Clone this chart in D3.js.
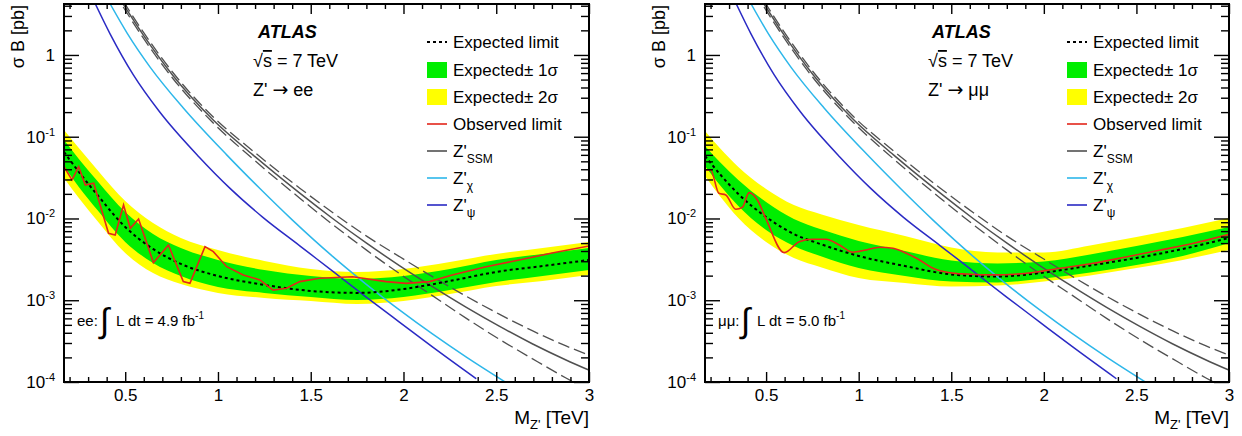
<!DOCTYPE html>
<html><head><meta charset="utf-8">
<script src="https://cdn.jsdelivr.net/npm/d3@7"></script>
<style>
body{margin:0;background:#fff}
text{font-family:"Liberation Sans",Arial,Helvetica,sans-serif;fill:#000}
</style></head>
<body><svg id="chart" width="1242" height="436"></svg>
<script>
// ---------- data ----------
const xDomain = [0.17, 3];
const yDomain = [1e-4, 4.2];
const xMajorTicks = [0.5, 1, 1.5, 2, 2.5, 3];
const xTickLabels = ["0.5", "1", "1.5", "2", "2.5", "3"];
const yMajorTicks = [1e-4, 1e-3, 1e-2, 1e-1, 1];
const yTickBase = ["10", "10", "10", "10", "1"];
const yTickExp = ["-4", "-3", "-2", "-1", ""];

const bandMass = [0.17,0.25,0.35,0.5,0.65,0.8,1.0,1.25,1.5,1.75,2.0,2.25,2.5,2.75,3.0];

// ee channel
const eeExpected = [0.0651,0.0371,0.01938,0.00787,0.00424,0.00278,0.00198,0.00154,0.00130,0.00123,0.00137,0.00172,0.00222,0.00262,0.00311];
const eeTwoSigmaUp = [0.1210,0.0728,0.0392,0.01637,0.00881,0.00577,0.00412,0.00302,0.00241,0.00222,0.00241,0.00294,0.00368,0.00436,0.00516];
const eeOneSigmaUp = [0.0912,0.0534,0.0288,0.01201,0.00646,0.00436,0.00311,0.00234,0.00198,0.00182,0.00198,0.00241,0.00311,0.00368,0.00436];
const eeOneSigmaDown = [0.0439,0.0243,0.0127,0.00516,0.00286,0.00198,0.00145,0.00123,0.001096,0.001007,0.001096,0.00133,0.00167,0.00198,0.00234];
const eeTwoSigmaDown = [0.0313,0.01781,0.00931,0.00378,0.00215,0.00158,0.00123,0.001066,0.000979,0.000900,0.000979,0.00119,0.00149,0.00172,0.00204];
const eeObsMass = [0.17,0.213,0.249,0.285,0.330,0.410,0.446,0.491,0.527,0.572,0.652,0.733,0.813,0.849,0.930,0.975,1.047,1.136,1.226,1.297,1.369,1.441,1.548,1.726,1.907,2.014,2.140,2.263,2.445,2.624,2.801,3.0];
const eeObserved = [0.0430,0.0296,0.0430,0.0257,0.0270,0.00659,0.00628,0.0146,0.00759,0.00986,0.00288,0.00474,0.00169,0.00161,0.00452,0.00393,0.00257,0.00204,0.00177,0.00133,0.00140,0.00169,0.00186,0.00194,0.00169,0.00161,0.00169,0.00204,0.00257,0.00311,0.00378,0.00460];

// mumu channel
const mmExpected = [0.0581,0.0350,0.01995,0.01043,0.00646,0.00481,0.00348,0.00262,0.00207,0.00195,0.00218,0.00266,0.00329,0.00424,0.00577];
const mmTwoSigmaUp = [0.1175,0.0728,0.0427,0.0230,0.01462,0.01119,0.00832,0.00611,0.00442,0.00384,0.00384,0.00468,0.00594,0.00766,0.01014];
const mmOneSigmaUp = [0.0771,0.0491,0.0296,0.0159,0.00986,0.00733,0.00531,0.00400,0.00306,0.00282,0.00298,0.00363,0.00461,0.00594,0.00787];
const mmOneSigmaDown = [0.0439,0.0257,0.01422,0.00723,0.00461,0.00343,0.00248,0.00198,0.00169,0.00165,0.00185,0.00218,0.00270,0.00348,0.00501];
const mmTwoSigmaDown = [0.0331,0.01884,0.01014,0.00516,0.00329,0.00252,0.00187,0.00163,0.00147,0.00151,0.00169,0.00201,0.00248,0.00311,0.00412];
const mmObsMass = [0.17,0.200,0.245,0.282,0.336,0.372,0.408,0.453,0.498,0.598,0.679,0.751,0.824,0.896,0.968,1.040,1.112,1.185,1.257,1.329,1.401,1.492,1.582,1.725,1.908,2.088,2.267,2.450,2.630,2.809,3.0];
const mmObserved = [0.0392,0.0392,0.0203,0.0194,0.01297,0.01371,0.0207,0.01683,0.01005,0.00382,0.00520,0.00557,0.00557,0.00474,0.00386,0.00412,0.00445,0.00432,0.00375,0.00311,0.00246,0.00217,0.00209,0.00204,0.00214,0.00246,0.00283,0.00341,0.00412,0.00498,0.00640];

// theory predictions
const ssmMass = [0.489,0.597,0.758,0.973,1.188,1.441,1.618,1.801,1.978,2.156,2.339,2.516,2.694,2.876,3.0];
const ssmXsec = [4.2,1.758,0.557,0.1614,0.0600,0.0204,0.0100,0.00499,0.002655,0.001466,0.000818,0.000482,0.000294,0.000186,0.0001396];
const ssmXsecUp = [4.57,1.913,0.606,0.1756,0.0671,0.02348,0.01184,0.00608,0.00342,0.001942,0.001115,0.000676,0.000424,0.000276,0.000213];
const ssmXsecDown = [3.86,1.616,0.512,0.1483,0.0536,0.01772,0.00845,0.0041,0.00212,0.001138,0.0006,0.000334,0.000193,0.000112,0.0000795];
const chiMass = [0.419,0.511,0.634,0.812,1.047,1.226,1.403,1.618,1.801,1.978,2.156,2.339,2.570];
const chiXsec = [4.2,1.837,0.711,0.226,0.0600,0.02323,0.00948,0.003436,0.001556,0.000762,0.000387,0.0002014,0.0000931];
const psiMass = [0.339,0.419,0.543,0.683,0.898,1.065,1.242,1.441,1.618,1.801,1.978,2.156,2.392];
const psiXsec = [4.2,1.799,0.574,0.2046,0.0565,0.02333,0.01033,0.004634,0.00227,0.001086,0.00054,0.0002685,0.0001096];

const legendLabels = ["Expected limit","Expected\u00b1 1\u03c3","Expected\u00b1 2\u03c3","Observed limit","Z'","Z'","Z'"];
const legendSubs = ["","","","","SSM","\u03c7","\u03c8"];

// ---------- styles ----------
const C = {yellow:"#ffff00", green:"#00ee00", red:"#e3261b", ssm:"#505050", chi:"#2db7ea", psi:"#2a2ac4"};
const TOP = 4, BOTTOM = 382;

const svg = d3.select("#chart");
const defs = svg.append("defs");

function drawPanel(cfg) {
  const x = d3.scaleLinear().domain(xDomain).range([cfg.left, cfg.right]);
  const y = d3.scaleLog().domain(yDomain).range([BOTTOM, TOP]);
  const g = svg.append("g");

  defs.append("clipPath").attr("id", cfg.id).append("rect")
    .attr("x", cfg.left).attr("y", TOP).attr("width", cfg.right - cfg.left).attr("height", BOTTOM - TOP);
  const plot = g.append("g").attr("clip-path", `url(#${cfg.id})`);

  const area = (lo, hi) => d3.area()
    .x((d, i) => x(bandMass[i])).y0((d, i) => y(lo[i])).y1((d, i) => y(hi[i]))
    .curve(d3.curveMonotoneX);

  plot.append("path").datum(bandMass).attr("d", area(cfg.d2, cfg.u2)).attr("fill", C.yellow);
  plot.append("path").datum(bandMass).attr("d", area(cfg.d1, cfg.u1)).attr("fill", C.green);

  // theory curves
  const smooth = d3.line().x(d => x(d[0])).y(d => y(d[1])).curve(d3.curveMonotoneX);
  plot.append("path").datum(d3.zip(ssmMass, ssmXsecUp)).attr("d", smooth).attr("fill", "none")
    .attr("stroke", C.ssm).attr("stroke-width", 1.3).attr("stroke-dasharray", "12,5");
  plot.append("path").datum(d3.zip(ssmMass, ssmXsecDown)).attr("d", smooth).attr("fill", "none")
    .attr("stroke", C.ssm).attr("stroke-width", 1.3).attr("stroke-dasharray", "12,5");
  plot.append("path").datum(d3.zip(ssmMass, ssmXsec)).attr("d", smooth).attr("fill", "none")
    .attr("stroke", C.ssm).attr("stroke-width", 1.5);
  plot.append("path").datum(d3.zip(chiMass, chiXsec)).attr("d", smooth).attr("fill", "none")
    .attr("stroke", C.chi).attr("stroke-width", 1.5);
  plot.append("path").datum(d3.zip(psiMass, psiXsec)).attr("d", smooth).attr("fill", "none")
    .attr("stroke", C.psi).attr("stroke-width", 1.5);

  plot.append("path").datum(d3.zip(bandMass, cfg.exp)).attr("d", smooth)
    .attr("fill", "none").attr("stroke", "#000").attr("stroke-width", 2).attr("stroke-dasharray", "3,3");
  plot.append("path").datum(d3.zip(cfg.obsMass, cfg.obs))
    .attr("d", d3.line().x(d => x(d[0])).y(d => y(d[1])).curve(cfg.obsCurve))
    .attr("fill", "none").attr("stroke", C.red).attr("stroke-width", 1.6);

  // axes
  const xMinor = d3.range(2, 30).map(v => v / 10).filter(v => Math.abs(v * 2 - Math.round(v * 2)) > 1e-6);
  const yMinor = [];
  [1e-4, 1e-3, 1e-2, 1e-1, 1].forEach(dec => { for (let k = 2; k <= 9; k++) if (dec * k <= yDomain[1]) yMinor.push(dec * k); });

  const styleAxis = sel => { sel.select(".domain").remove(); sel.selectAll(".tick line").attr("stroke", "#000").attr("stroke-width", 1.4); };

  g.append("g").attr("transform", `translate(0,${BOTTOM})`)
    .call(d3.axisBottom(x).tickValues(xMajorTicks).tickSize(-10).tickPadding(7).tickFormat((d, i) => xTickLabels[i]))
    .call(styleAxis)
    .call(s => s.selectAll(".tick text").attr("font-size", 17).attr("font-family", '"Liberation Sans",Arial,sans-serif').attr("fill", "#000"));
  g.append("g").attr("transform", `translate(0,${BOTTOM})`)
    .call(d3.axisBottom(x).tickValues(xMinor).tickSize(-5).tickFormat("")).call(styleAxis);
  g.append("g").attr("transform", `translate(0,${TOP})`)
    .call(d3.axisTop(x).tickValues(xMajorTicks).tickSize(-10).tickFormat("")).call(styleAxis);
  g.append("g").attr("transform", `translate(0,${TOP})`)
    .call(d3.axisTop(x).tickValues(xMinor).tickSize(-5).tickFormat("")).call(styleAxis);

  g.append("g").attr("transform", `translate(${cfg.left},0)`)
    .call(d3.axisLeft(y).tickValues(yMajorTicks).tickSize(-15).tickFormat("")).call(styleAxis);
  g.append("g").attr("transform", `translate(${cfg.left},0)`)
    .call(d3.axisLeft(y).tickValues(yMinor).tickSize(-8).tickFormat("")).call(styleAxis);
  g.append("g").attr("transform", `translate(${cfg.right},0)`)
    .call(d3.axisRight(y).tickValues(yMajorTicks).tickSize(-15).tickFormat("")).call(styleAxis);
  g.append("g").attr("transform", `translate(${cfg.right},0)`)
    .call(d3.axisRight(y).tickValues(yMinor).tickSize(-8).tickFormat("")).call(styleAxis);

  yMajorTicks.forEach((v, i) => {
    const t = g.append("text").attr("x", cfg.left - 9).attr("y", y(v) + 6)
      .attr("text-anchor", "end").attr("font-size", 17).text(yTickBase[i]);
    if (yTickExp[i]) t.append("tspan").attr("dy", -7).attr("font-size", 11).text(yTickExp[i]);
  });

  // frame
  g.append("rect").attr("x", cfg.left).attr("y", TOP).attr("width", cfg.right - cfg.left).attr("height", BOTTOM - TOP)
    .attr("fill", "none").attr("stroke", "#000").attr("stroke-width", 2);

  // axis titles
  g.append("text").attr("transform", `translate(${cfg.left - 40},5) rotate(-90)`)
    .attr("text-anchor", "end").attr("font-size", 18).text("\u03c3 B [pb]");
  const xt = g.append("text").attr("x", cfg.right).attr("y", 424).attr("text-anchor", "end").attr("font-size", 19);
  xt.append("tspan").text("M");
  xt.append("tspan").attr("dy", 5).attr("font-size", 13).text("Z'");
  xt.append("tspan").attr("dy", -5).text(" [TeV]");

  // ATLAS labels
  g.append("text").attr("x", cfg.atlasX).attr("y", 38).attr("font-size", 18)
    .attr("font-weight", "bold").attr("font-style", "italic").text("ATLAS");
  const s = g.append("text").attr("x", cfg.textX).attr("y", 67).attr("font-size", 18);
  s.append("tspan").text("\u221a");
  s.append("tspan").attr("text-decoration", "overline").text("s");
  s.append("tspan").text(" = 7 TeV");
  const z = g.append("text").attr("x", cfg.textX).attr("y", 96).attr("font-size", 18);
  z.append("tspan").text("Z' ");
  z.append("tspan").attr("font-family", '"DejaVu Sans",sans-serif').attr("font-size", 19).text("\u2192");
  z.append("tspan").text(" " + cfg.channel);

  // luminosity
  g.append("text").attr("x", cfg.left + 13).attr("y", 326).attr("font-size", 15).text(cfg.channel + ":");
  g.append("text").attr("x", cfg.intX).attr("y", 332).attr("font-size", 34)
    .attr("font-family", '"DejaVu Sans",sans-serif').text("\u222b");
  const lt = g.append("text").attr("x", cfg.intX + 16).attr("y", 326).attr("font-size", 15);
  lt.append("tspan").text("L dt = " + cfg.lumi + " fb");
  lt.append("tspan").attr("dy", -7).attr("font-size", 10).text("-1");

  // legend
  const rows = [42, 70, 97, 124, 151, 178, 205];
  const lx = cfg.legX;
  rows.forEach((ry, i) => {
    if (i === 0) g.append("line").attr("x1", lx).attr("x2", lx + 20).attr("y1", ry).attr("y2", ry)
      .attr("stroke", "#000").attr("stroke-width", 2).attr("stroke-dasharray", "3,3");
    else if (i === 1 || i === 2) g.append("rect").attr("x", lx).attr("y", ry - 8).attr("width", 20).attr("height", 16)
      .attr("fill", i === 1 ? C.green : C.yellow);
    else {
      const col = [null, null, null, C.red, C.ssm, C.chi, C.psi][i];
      g.append("line").attr("x1", lx).attr("x2", lx + 20).attr("y1", ry).attr("y2", ry)
        .attr("stroke", col).attr("stroke-width", 1.6);
    }
    const t = g.append("text").attr("x", lx + 26).attr("y", ry + 6).attr("font-size", 17).text(legendLabels[i]);
    if (legendSubs[i]) t.append("tspan").attr("dy", 6).attr("font-size", 12).text(legendSubs[i]);
  });
}

drawPanel({id: "clipEE", left: 64, right: 589, exp: eeExpected, u2: eeTwoSigmaUp, u1: eeOneSigmaUp,
  d1: eeOneSigmaDown, d2: eeTwoSigmaDown, obsMass: eeObsMass, obs: eeObserved, obsCurve: d3.curveLinear,
  atlasX: 258, textX: 253, channel: "ee", lumi: "4.9", intX: 100, legX: 427});
drawPanel({id: "clipMM", left: 705, right: 1229, exp: mmExpected, u2: mmTwoSigmaUp, u1: mmOneSigmaUp,
  d1: mmOneSigmaDown, d2: mmTwoSigmaDown, obsMass: mmObsMass, obs: mmObserved, obsCurve: d3.curveMonotoneX,
  atlasX: 932, textX: 928, channel: "\u03bc\u03bc", lumi: "5.0", intX: 741, legX: 1067});
</script></body></html>
